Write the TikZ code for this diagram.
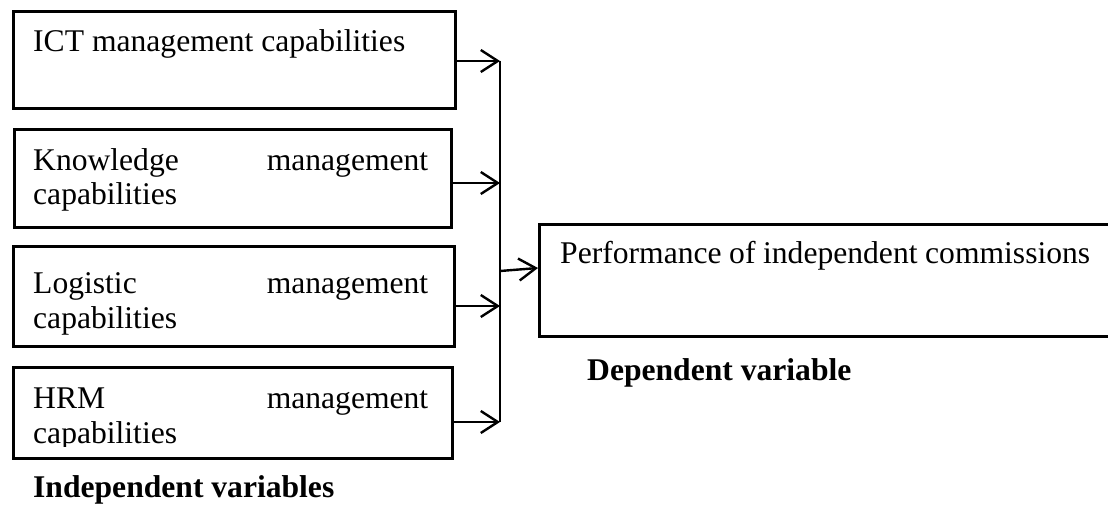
\documentclass[tikz,border=0pt]{standalone}
\usepackage{fontspec}
\setmainfont{Liberation Serif}
\usetikzlibrary{arrows.meta}

\newcommand{\boxfont}{\fontsize{31.6pt}{35pt}\selectfont}

\tikzset{
  varbox/.style={draw, line width=3.4pt, anchor=north west, inner sep=0pt},
  boxtext/.style={anchor=base west, inner sep=0pt, text width=395pt, align=justify},
  heading/.style={anchor=base west, inner sep=0pt, font=\boxfont\bfseries},
  feed/.style={line width=2.4pt, -{Straight Barb[length=17pt,width=22pt,line width=2.4pt]}},
}

\begin{document}
\begin{tikzpicture}[x=1pt,y=-1pt,font=\boxfont]
  \clip (0,0) rectangle (1108,508); %% page size

  %% independent variables
  \node[varbox, minimum width=442pt, minimum height=97pt] (ict) at (12,10) {};
  \node[varbox, minimum width=437pt, minimum height=98pt] (know) at (13,128) {};
  \node[varbox, minimum width=441pt, minimum height=100pt] (logi) at (12,245) {};
  \node[varbox, minimum width=439pt, minimum height=91pt] (hrm) at (12,366) {};

  \node[boxtext] (icttext) at (33,52) {ICT management capabilities};
  \node[boxtext] (knowtext) at (33,170) {Knowledge\hfill management\\capabilities};
  \node[boxtext] (logitext) at (33,293) {Logistic\hfill management\\capabilities};
  \begin{scope}
    \clip (12,366) rectangle (451,446); %% last line runs out of the box
    \node[boxtext] (hrmtext) at (33,408) {HRM\hfill management\\capabilities};
  \end{scope}

  %% dependent variable
  \node[varbox, minimum width=580pt, minimum height=112pt] (perf) at (538,223) {};
  \node[boxtext, text width=530pt] (perftext) at (560,263) {Performance of independent commissions};

  \node[heading] (indep) at (33,497) {Independent variables};
  \node[heading] (dep) at (587,380) {Dependent variable};

  \coordinate (bus1) at (500,61);
  \coordinate (bus2) at (500,183);
  \coordinate (bus3) at (500,306);
  \coordinate (bus4) at (500,422);
  \coordinate (busout) at (500,271);
  \coordinate (perfin) at (perf.west |- 0,268);

  \foreach \src/\bus in {ict/bus1, know/bus2, logi/bus3, hrm/bus4}
    \draw[feed] (\src.east |- \bus) -- (\bus);
  \draw[line width=2.4pt] (bus1) -- (bus4);
  \draw[feed] (busout) -- (perfin);
\end{tikzpicture}
\end{document}
